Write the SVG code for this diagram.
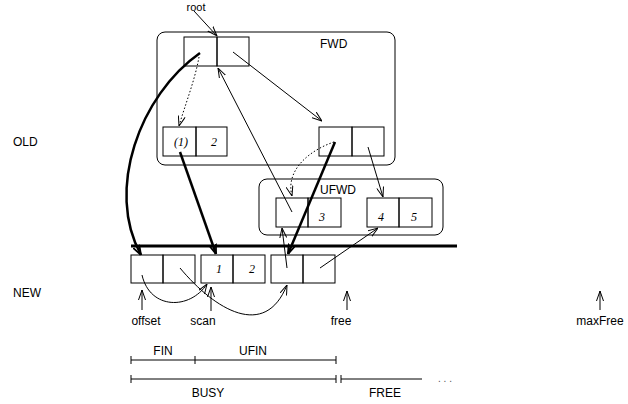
<svg xmlns="http://www.w3.org/2000/svg" width="628" height="404" viewBox="0 0 628 404">
<defs>
<style>
.t{font-family:"Liberation Sans",Arial,sans-serif;font-size:12px;fill:#000}
.n{font-family:"Liberation Serif","Times New Roman",serif;font-style:italic;font-size:12px;fill:#000}
.box{fill:none;stroke:#000;stroke-width:1}
.grp{fill:none;stroke:#000;stroke-width:1}
.thin{fill:none;stroke:#000;stroke-width:1;marker-end:url(#ah)}
.dot{fill:none;stroke:#000;stroke-width:1;stroke-dasharray:1.5 2;marker-end:url(#ah)}
.thick{fill:none;stroke:#000;stroke-width:2.5;marker-end:url(#ahb)}
.ln{fill:none;stroke:#000;stroke-width:1}
</style>
<marker id="ah" viewBox="0 0 10 8" refX="10" refY="4" markerWidth="10" markerHeight="8" markerUnits="userSpaceOnUse" orient="auto">
<path d="M0,0.5 L10,4 L0,7.5" fill="none" stroke="#000" stroke-width="1"/>
</marker>
<marker id="ahb" viewBox="0 0 10 8" refX="10" refY="4" markerWidth="10" markerHeight="8" markerUnits="userSpaceOnUse" orient="auto">
<path d="M0,0.5 L10,4 L0,7.5" fill="none" stroke="#000" stroke-width="1.8"/>
</marker>
</defs>
<rect width="628" height="404" fill="#fff"/>

<g id="labels">
<text class="t" x="13" y="146">OLD</text>
<text class="t" x="13" y="297">NEW</text>
</g>

<g id="fwd">
<rect class="grp" x="157" y="32" width="238" height="133" rx="8"/>
<text class="t" x="320" y="48">FWD</text>
</g>
<g id="ufwd">
<rect class="grp" x="259" y="179" width="184" height="56" rx="8"/>
<text class="t" x="320" y="194">UFWD</text>
</g>

<g id="rootLabel"><text class="t" x="196" y="11" text-anchor="middle" style="font-size:11px">root</text></g>
<g id="rootObj">
<rect class="box" x="184" y="37" width="33" height="29" stroke-width="1.6"/>
<rect class="box" x="217" y="37" width="32" height="29"/>
</g>
<g id="obj1">
<rect class="box" x="163" y="127" width="33" height="29"/>
<rect class="box" x="196" y="127" width="31" height="29"/>
<text class="n" x="181" y="146" text-anchor="middle">(1)</text>
<text class="n" x="214" y="146" text-anchor="middle">2</text>
</g>
<g id="objR">
<rect class="box" x="319" y="127" width="33" height="29"/>
<rect class="box" x="352" y="127" width="32" height="29"/>
</g>
<g id="obj3">
<rect class="box" x="276" y="198" width="32" height="29"/>
<rect class="box" x="308" y="198" width="33" height="29"/>
<text class="n" x="322" y="221" text-anchor="middle">3</text>
</g>
<g id="obj45">
<rect class="box" x="367" y="198" width="32" height="29"/>
<rect class="box" x="399" y="198" width="33" height="29"/>
<text class="n" x="381" y="221" text-anchor="middle">4</text>
<text class="n" x="414" y="221" text-anchor="middle">5</text>
</g>

<g id="divider"><line x1="131" y1="246" x2="457" y2="246" stroke="#000" stroke-width="3"/></g>

<g id="new0">
<rect class="box" x="131" y="255" width="32" height="28"/>
<rect class="box" x="163" y="255" width="32" height="28"/>
</g>
<g id="new1">
<rect class="box" x="201" y="255" width="32" height="28"/>
<rect class="box" x="233" y="255" width="32" height="28"/>
<text class="n" x="219" y="273" text-anchor="middle">1</text>
<text class="n" x="252" y="273" text-anchor="middle">2</text>
</g>
<g id="new2">
<rect class="box" x="271" y="255" width="32" height="28"/>
<rect class="box" x="303" y="255" width="32" height="28"/>
</g>

<g id="pointers">
<text class="t" x="146" y="325" text-anchor="middle">offset</text>
<text class="t" x="203" y="325" text-anchor="middle">scan</text>
<text class="t" x="341" y="325" text-anchor="middle">free</text>
<text class="t" x="600" y="325" text-anchor="middle">maxFree</text>
</g>

<g id="ranges">
<line class="ln" x1="131" y1="360" x2="336" y2="360"/>
<line class="ln" x1="131" y1="356" x2="131" y2="364"/>
<line class="ln" x1="195" y1="356" x2="195" y2="364"/>
<line class="ln" x1="336" y1="356" x2="336" y2="364"/>
<text class="t" x="163" y="355" text-anchor="middle">FIN</text>
<text class="t" x="253" y="355" text-anchor="middle">UFIN</text>
<line class="ln" x1="131" y1="379" x2="336" y2="379"/>
<line class="ln" x1="131" y1="375" x2="131" y2="383"/>
<line class="ln" x1="336" y1="375" x2="336" y2="383"/>
<line class="ln" x1="341" y1="375" x2="341" y2="383"/>
<line class="ln" x1="341" y1="379" x2="422" y2="379"/>
<text class="t" x="445" y="382" text-anchor="middle" style="font-size:10px;fill:#555">. . .</text>
<text class="t" x="208" y="397" text-anchor="middle">BUSY</text>
<text class="t" x="385" y="397" text-anchor="middle">FREE</text>
</g>

<g id="connectors">
<path class="thin" d="M194,11 L217,36"/>
<path class="thick" d="M200,53 C140,95 105,190 141,255"/>
<path class="dot" d="M199,57 C195,80 185,105 179,126"/>
<path class="thin" d="M233,52 L322,121"/>
<path class="thin" d="M292,212 L218,68"/>
<path class="dot" d="M334,142 C310,150 285,170 292,196"/>
<path class="thick" d="M335,142 L288,254"/>
<path class="thin" d="M368,147 L383,197"/>
<path class="thick" d="M180,152 L216,254"/>
<path class="thin" d="M287,268 L282,228"/>
<path class="thin" d="M320,268 L378,228"/>
<path class="thin" d="M142,275 C150,310 190,310 207,284"/>
<path class="thin" d="M180,268 C215,310 265,340 287,285"/>
<path class="thin" d="M142,310 L142,290"/>
<path class="thin" d="M211,311 L211,287"/>
<path class="thin" d="M347,310 L347,291"/>
<path class="thin" d="M600,310 L600,291"/>
</g>
</svg>
